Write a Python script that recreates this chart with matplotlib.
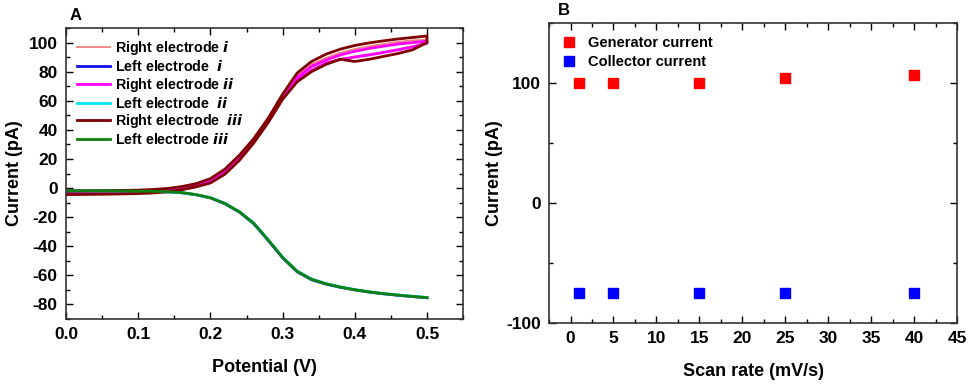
import matplotlib
matplotlib.use("Agg")
import matplotlib.pyplot as plt
from matplotlib.ticker import MultipleLocator

plt.rcParams['font.family'] = ['Liberation Sans', 'DejaVu Sans']
plt.rcParams['font.weight'] = 'bold'
plt.rcParams['axes.unicode_minus'] = False

# ---------------- Panel A data ----------------
potential = [0.00, 0.02, 0.04, 0.06, 0.08, 0.10, 0.12, 0.14, 0.16, 0.18, 0.20, 0.22, 0.24,
             0.26, 0.28, 0.30, 0.32, 0.34, 0.36, 0.38, 0.40, 0.42, 0.44, 0.46, 0.48, 0.50]

right_i_fwd = [-3.8, -3.7, -3.6, -3.5, -3.4, -3.2, -2.8, -2.0, -0.6, 1.2, 4.0, 10.0, 19.5,
               31.5, 45.5, 61.5, 73.5, 80.5, 85.5, 88.5, 90.5, 92.0, 93.5, 95.5, 97.5, 100.0]
right_i_rev = [-2.4, -2.3, -2.2, -2.1, -1.9, -1.7, -1.3, -0.6, 0.7, 2.6, 6.0, 12.5, 22.0,
               33.5, 47.0, 63.0, 77.0, 85.0, 89.5, 93.0, 95.5, 97.5, 99.0, 100.5, 101.5, 102.0]
right_ii_fwd = [-3.6, -3.5, -3.4, -3.3, -3.2, -3.0, -2.6, -1.8, -0.4, 1.4, 4.2, 10.2, 19.8,
                31.8, 45.8, 61.8, 73.8, 80.8, 85.8, 88.5, 90.0, 91.5, 93.2, 95.0, 97.0, 99.5]
right_ii_rev = [-2.6, -2.5, -2.4, -2.3, -2.1, -1.9, -1.5, -0.8, 0.5, 2.4, 5.6, 12.0, 21.5,
                33.0, 46.5, 62.5, 76.0, 83.5, 88.0, 91.5, 94.0, 96.0, 97.5, 99.0, 100.0, 101.0]
right_iii_fwd = [-4.5, -4.4, -4.3, -4.2, -4.0, -3.8, -3.4, -2.6, -1.2, 0.8, 3.5, 9.5, 19.0,
                 31.0, 45.0, 61.0, 73.0, 80.0, 85.0, 88.5, 87.0, 88.5, 90.5, 92.5, 95.0, 100.0]
right_iii_rev = [-2.1, -2.0, -1.9, -1.8, -1.6, -1.4, -1.0, -0.3, 1.0, 3.0, 6.5, 13.0, 22.5,
                 34.0, 48.0, 64.5, 79.0, 87.0, 92.0, 95.5, 98.0, 99.8, 101.2, 102.5, 103.5, 104.5]

left_i = [-2.0, -2.0, -2.0, -2.0, -2.1, -2.2, -2.3, -2.6, -3.2, -4.6, -6.8, -10.8, -16.5,
          -24.5, -36.0, -48.0, -57.5, -63.0, -66.0, -68.2, -70.0, -71.5, -72.7, -73.7, -74.6, -75.4]
left_ii = [-2.0, -2.0, -2.0, -2.0, -2.1, -2.2, -2.3, -2.6, -3.2, -4.5, -6.6, -10.5, -16.2,
           -24.0, -35.5, -47.5, -57.0, -62.5, -65.7, -68.0, -69.8, -71.3, -72.5, -73.5, -74.4, -75.2]
left_iii = [-1.9, -1.9, -1.9, -1.9, -2.0, -2.1, -2.2, -2.5, -3.1, -4.5, -6.7, -10.6, -16.3,
            -24.2, -35.7, -47.7, -57.2, -62.7, -65.8, -68.1, -69.9, -71.4, -72.6, -73.6, -74.5, -75.3]

# ---------------- Panel B data ----------------
scan_rate = [1, 5, 15, 25, 40]
generator_current = [100, 100, 100, 104, 107]
collector_current = [-75, -75, -75, -75, -75]

fig = plt.figure(figsize=(9.77, 3.87), dpi=100)

# ---------------- Panel A ----------------
axA = fig.add_axes([0.0676, 0.1757, 0.4064, 0.7519])


def loop(fwd, rev):
    xs = list(potential) + list(potential[::-1])
    ys = list(fwd) + list(rev[::-1])
    return xs, ys


xs, ys = loop(right_i_fwd, right_i_rev)
axA.plot(xs, ys, color='#f08080', lw=1.3, label='Right electrode $\\it{i}$')
axA.plot(potential, left_i, color='#1010e0', lw=2.0, label='Left electrode  $\\it{i}$')
xs, ys = loop(right_ii_fwd, right_ii_rev)
axA.plot(xs, ys, color='#ff00ff', lw=2.0, label='Right electrode $\\it{ii}$')
axA.plot(potential, left_ii, color='#00e5f0', lw=2.0, label='Left electrode  $\\it{ii}$')
xs, ys = loop(right_iii_fwd, right_iii_rev)
axA.plot(xs, ys, color='#800000', lw=2.0, label='Right electrode  $\\it{iii}$')
axA.plot(potential, left_iii, color='#108010', lw=2.0, label='Left electrode $\\it{iii}$')

axA.set_xlim(0, 0.55)
axA.set_ylim(-90, 110)
axA.xaxis.set_major_locator(MultipleLocator(0.1))
axA.xaxis.set_minor_locator(MultipleLocator(0.05))
axA.set_yticks([-80, -60, -40, -20, 0, 20, 40, 60, 80, 100])
axA.yaxis.set_minor_locator(MultipleLocator(10))
axA.set_xlabel('Potential (V)', fontsize=13, fontweight='bold', labelpad=12)
axA.set_ylabel('Current (pA)', fontsize=13, fontweight='bold', labelpad=4)
leg = axA.legend(loc='upper left', frameon=False, fontsize=10.3, handlelength=2.3,
                 labelspacing=0.12, borderaxespad=0.4, handletextpad=0.35)
for t in leg.get_texts():
    t.set_fontweight('bold')
fig.text(0.0717, 0.948, 'A', fontsize=12, fontweight='bold')

# ---------------- Panel B ----------------
axB = fig.add_axes([0.562, 0.1654, 0.4175, 0.7752])
axB.plot(scan_rate, generator_current, 's', color='#ff0000', ms=7, label='Generator current')
axB.plot(scan_rate, collector_current, 's', color='#0000ff', ms=7, label='Collector current')
axB.set_xlim(-2.5, 45)
axB.set_ylim(-100, 150)
axB.xaxis.set_major_locator(MultipleLocator(5))
axB.xaxis.set_minor_locator(MultipleLocator(2.5))
axB.set_yticks([-100, 0, 100])
axB.yaxis.set_minor_locator(MultipleLocator(50))
axB.set_xlabel('Scan rate (mV/s)', fontsize=13, fontweight='bold', labelpad=12)
axB.set_ylabel('Current (pA)', fontsize=13, fontweight='bold', labelpad=2)
legB = axB.legend(loc='upper left', frameon=False, fontsize=10.5, handlelength=1.0,
                  labelspacing=0.35, borderaxespad=0.5, handletextpad=0.8, markerscale=1.0)
for t in legB.get_texts():
    t.set_fontweight('bold')
fig.text(0.571, 0.961, 'B', fontsize=12, fontweight='bold')

for ax in (axA, axB):
    ax.tick_params(which='both', direction='in', top=True, right=True, width=1.0)
    ax.tick_params(which='major', length=5, labelsize=12.5, pad=6)
    ax.tick_params(which='minor', length=3)
    for lab in ax.get_xticklabels() + ax.get_yticklabels():
        lab.set_fontweight('bold')
    for s in ax.spines.values():
        s.set_linewidth(1.2)
        s.set_color('#333333')

fig.savefig('out.png', dpi=100)
